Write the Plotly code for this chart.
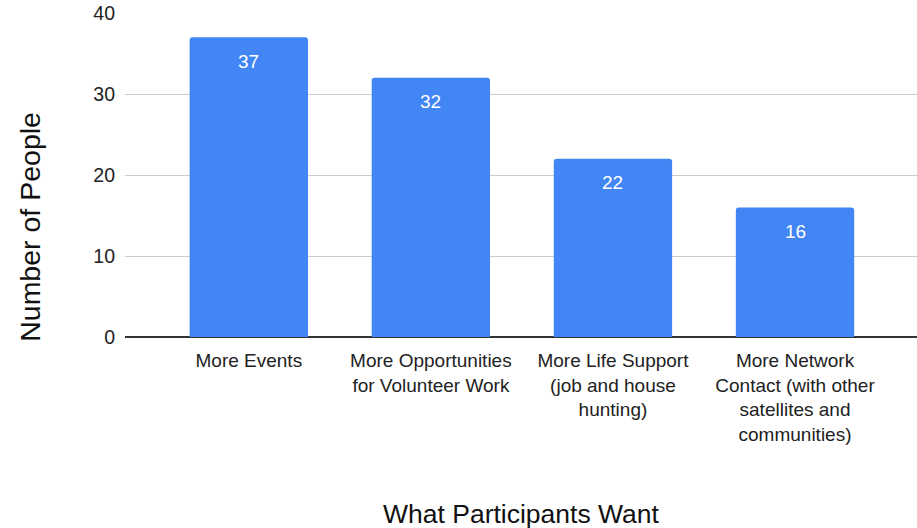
import plotly.graph_objects as go

categories = [
    "More Events",
    "More Opportunities<br>for Volunteer Work",
    "More Life Support<br>(job and house<br>hunting)",
    "More Network<br>Contact (with other<br>satellites and<br>communities)",
]
people = [37, 32, 22, 16]
y_ticks = [0, 10, 20, 30, 40]

FONT = "Liberation Sans, Arial, sans-serif"
BLUE = "#4285F4"

fig = go.Figure()
fig.add_trace(go.Bar(
    x=list(range(len(categories))),
    y=people,
    width=0.65,
    marker=dict(color=BLUE, line=dict(width=0), cornerradius=3),
    hoverinfo="skip",
))

# value labels near the top of each bar
for i, v in enumerate(people):
    fig.add_annotation(
        x=i, y=v, text=str(v), showarrow=False,
        yanchor="middle", yshift=-24,
        font=dict(family=FONT, size=19, color="white"),
    )

# axis titles
fig.add_annotation(
    xref="paper", yref="paper", x=0.5, y=-0.545, text="What Participants Want",
    showarrow=False, xanchor="center", yanchor="middle",
    font=dict(family=FONT, size=26.5, color="#111"),
)
fig.add_annotation(
    xref="paper", yref="paper", x=-0.12, y=0.34, text="Number of People",
    showarrow=False, xanchor="center", yanchor="middle", textangle=-90,
    font=dict(family=FONT, size=28.5, color="#111"),
)

fig.update_layout(
    width=917, height=528,
    margin=dict(l=125, r=0, t=13, b=191),
    paper_bgcolor="white", plot_bgcolor="white",
    showlegend=False,
    font=dict(family=FONT, color="#222"),
    xaxis=dict(
        range=[-0.68, 3.67],
        tickmode="array",
        tickvals=list(range(len(categories))),
        ticktext=categories,
        tickfont=dict(family=FONT, size=19, color="#222"),
        showgrid=False, zeroline=False, showline=False,
        ticks="", ticklabelstandoff=10,
        fixedrange=True,
    ),
    yaxis=dict(
        range=[0, 40],
        tickvals=y_ticks,
        tickfont=dict(family=FONT, size=19.5, color="#222"),
        showgrid=True, gridcolor="#cccccc", gridwidth=1,
        zeroline=True, zerolinecolor="#333333", zerolinewidth=1.5,
        showline=False, ticks="", ticklabelstandoff=9,
        fixedrange=True,
    ),
)

fig.write_html("out.html")
